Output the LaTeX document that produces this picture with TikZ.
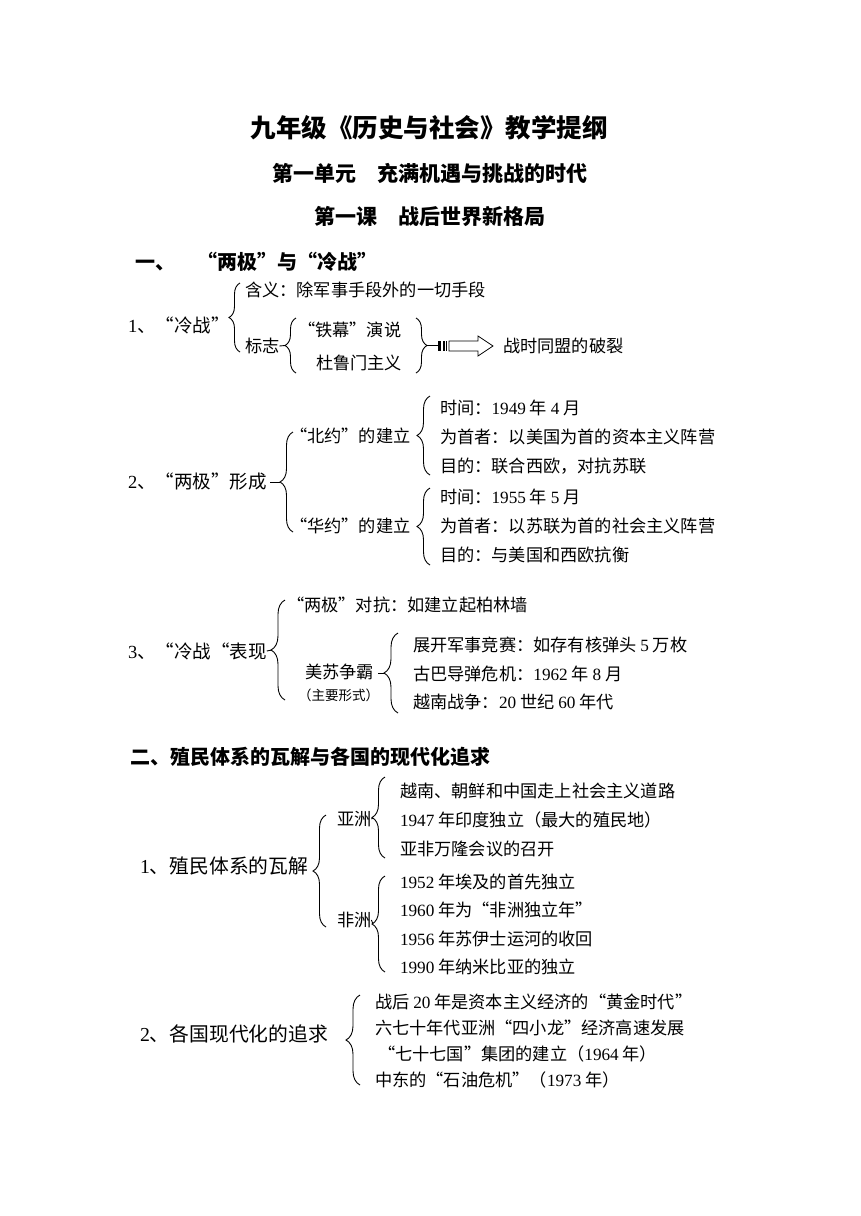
\documentclass[tikz,border=0pt]{standalone}
\usepackage{fontspec}
\setmainfont{Liberation Serif}
\newfontfamily\cjk{Noto Sans CJK SC}
\usetikzlibrary{decorations.pathreplacing}
\newcommand\nm[1]{{\rmfamily #1}}
\tikzset{
  base/.style={anchor=west,inner sep=0pt,outer sep=0pt},
  txt/.style={base,font={\cjk\fontsize{17.2}{20}\selectfont}},
  lbl/.style={base,font={\cjk\fontsize{18.5}{22}\selectfont}},
  lblb/.style={base,font={\cjk\fontsize{19.8}{23}\selectfont}},
  small/.style={base,font={\cjk\fontsize{13.5}{16}\selectfont}},
  ttl/.style={inner sep=0pt,font={\cjk\bfseries\fontsize{25.5}{30}\selectfont}},
  sub/.style={inner sep=0pt,font={\cjk\bfseries\fontsize{21}{25}\selectfont}},
  sec/.style={base,font={\cjk\bfseries\fontsize{20}{24}\selectfont}},
  br/.style={decorate,decoration={brace,amplitude=#1},line width=0.9pt},
  br/.default=12pt,
  tick/.style={line width=0.9pt},
}
\begin{document}
\begin{tikzpicture}[x=1pt,y=-1pt]
\useasboundingbox[fill=white] (0,0) rectangle (860,1216);
% titles
\node[ttl] (t0) at (429,128) {九年级《历史与社会》教学提纲};
\node[sub] (t1) at (430,173) {第一单元　充满机遇与挑战的时代};
\node[sub] (t2) at (430,216) {第一课　战后世界新格局};
\node[sec] (s1) at (135,262) {一、\hspace{22pt}“两极”与“冷战”};

% part 1
\node[lbl] (a1) at (128,325) {\nm{1}、“冷战”};
\coordinate (b1t) at (240,283); \coordinate (b1b) at (240,352);
\draw[br=11pt] (b1b) -- (b1t);
\node[txt] (a11) at (245,290) {含义：除军事手段外的一切手段};
\node[txt] (a12) at (245,346) {标志};
\coordinate (b2t) at (296,318); \coordinate (b2b) at (296,373);
\draw[br=11pt] (b2b) -- (b2t);
\draw[tick] (a12.east) -- (285,345.5);
\node[txt] (a121) at (298,330) {“铁幕”演说};
\node[txt] (a122) at (316,363) {杜鲁门主义};
\coordinate (b3t) at (416,318); \coordinate (b3b) at (416,373);
\draw[br=11pt] (b3t) -- (b3b);
\coordinate (arrS) at (427,345.5);
\coordinate (arrT) at (438,345.5);
\draw[tick] (arrS) -- (arrT);
\fill (438,341) rectangle (441,351);
\fill (442.5,341) rectangle (444.5,351);
\fill (446,341) rectangle (447.2,351);
\draw[line width=0.8pt] (449,341) -- (478,341) -- (478,336) -- (493,346) -- (478,356) -- (478,351) -- (449,351) -- cycle;
\node[txt] (a13) at (503,346) {战时同盟的破裂};

% part 2
\node[lbl] (a2) at (128,481) {\nm{2}、“两极”形成};
\coordinate (b4t) at (293,432); \coordinate (b4b) at (293,532);
\draw[br=13pt] (b4b) -- (b4t);
\draw[tick] (270,482) -- (280,482);
\node[txt] (a21) at (290,436) {“北约”的建立};
\node[txt] (a22) at (290,526) {“华约”的建立};
\coordinate (b5t) at (430,396); \coordinate (b5b) at (430,475);
\draw[br=13pt] (b5b) -- (b5t);
\node[txt] (a211) at (440,408) {时间：\nm{1949} 年 \nm{4} 月};
\node[txt] (a212) at (440,437) {为首者：以美国为首的资本主义阵营};
\node[txt] (a213) at (440,466) {目的：联合西欧，对抗苏联};
\coordinate (b6t) at (430,488); \coordinate (b6b) at (430,565);
\draw[br=13pt] (b6b) -- (b6t);
\node[txt] (a221) at (440,497) {时间：\nm{1955} 年 \nm{5} 月};
\node[txt] (a222) at (440,526) {为首者：以苏联为首的社会主义阵营};
\node[txt] (a223) at (440,555) {目的：与美国和西欧抗衡};

% part 3
\node[lbl] (a3) at (128,651) {\nm{3}、“冷战“表现};
\coordinate (b7t) at (285,600); \coordinate (b7b) at (285,700);
\draw[br=14pt] (b7b) -- (b7t);
\draw[tick] (a3.east) -- (272,650);
\node[txt] (a31) at (287,605) {“两极”对抗：如建立起柏林墙};
\node[txt] (a32) at (305,672) {美苏争霸};
\node[small] (a32b) at (298,695) {（主要形式）};
\coordinate (b8t) at (398,633); \coordinate (b8b) at (398,713);
\draw[br=14pt] (b8b) -- (b8t);
\draw[tick] (378,673) -- (385,673);
\node[txt] (a321) at (413,645) {展开军事竞赛：如存有核弹头 \nm{5} 万枚};
\node[txt] (a322) at (413,674) {古巴导弹危机：\nm{1962} 年 \nm{8} 月};
\node[txt] (a323) at (413,702) {越南战争：\nm{20} 世纪 \nm{60} 年代};

% section 2
\node[sec] (s2) at (130,757) {二、殖民体系的瓦解与各国的现代化追求};
\node[lblb] (c1) at (140,866) {\nm{1}、殖民体系的瓦解};
\coordinate (c1t) at (326,815); \coordinate (c1b) at (326,927);
\draw[br=13pt] (c1b) -- (c1t);
\node[txt] (c11) at (337,819) {亚洲};
\coordinate (c2t) at (385,777); \coordinate (c2b) at (385,858);
\draw[br=13pt] (c2b) -- (c2t);
\draw[tick] (c11.east) -- (373,818);
\node[txt] (c111) at (400,791) {越南、朝鲜和中国走上社会主义道路};
\node[txt] (c112) at (400,820) {\nm{1947} 年印度独立（最大的殖民地）};
\node[txt] (c113) at (400,849) {亚非万隆会议的召开};
\node[txt] (c12) at (337,920) {非洲};
\coordinate (c3t) at (385,876); \coordinate (c3b) at (385,972);
\draw[br=13pt] (c3b) -- (c3t);
\draw[tick] (c12.east) -- (373,924);
\node[txt] (c121) at (400,882) {\nm{1952} 年埃及的首先独立};
\node[txt] (c122) at (400,910) {\nm{1960} 年为“非洲独立年”};
\node[txt] (c123) at (400,939) {\nm{1956} 年苏伊士运河的收回};
\node[txt] (c124) at (400,967) {\nm{1990} 年纳米比亚的独立};

\node[lblb] (c2) at (140,1034) {\nm{2}、各国现代化的追求};
\coordinate (c4t) at (360,995); \coordinate (c4b) at (360,1085);
\draw[br=14pt] (c4b) -- (c4t);
\node[txt] (c21) at (375,1002) {战后 \nm{20} 年是资本主义经济的“黄金时代”};
\node[txt] (c22) at (375,1028) {六七十年代亚洲“四小龙”经济高速发展};
\node[txt] (c23) at (378,1054) {“七十七国”集团的建立（\nm{1964} 年）};
\node[txt] (c24) at (375,1080) {中东的“石油危机”（\nm{1973} 年）};
\end{tikzpicture}
\end{document}
